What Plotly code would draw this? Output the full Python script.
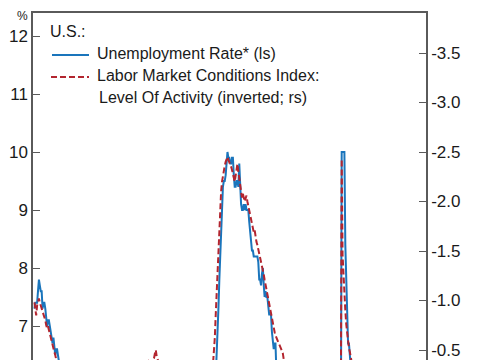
import pandas as pd
import plotly.graph_objects as go

# Monthly data, starting January 1992
start_month = "1992-01-01"

unemployment_rate = [
    7.3, 7.4, 7.4, 7.4, 7.6, 7.8, 7.7, 7.6, 7.6, 7.3, 7.4, 7.4,   # 1992
    7.3, 7.1, 7.0, 7.1, 7.1, 7.0, 6.9, 6.8, 6.7, 6.8, 6.6, 6.5,   # 1993
    6.6, 6.6, 6.5, 6.4, 6.1, 6.1, 6.1, 6.0, 5.9, 5.8, 5.6, 5.5,   # 1994
    5.6, 5.4, 5.4, 5.8, 5.6, 5.6, 5.7, 5.7, 5.6, 5.5, 5.6, 5.6,   # 1995
    5.6, 5.5, 5.5, 5.6, 5.6, 5.3, 5.5, 5.1, 5.2, 5.2, 5.4, 5.4,   # 1996
    5.3, 5.2, 5.2, 5.1, 4.9, 5.0, 4.9, 4.8, 4.9, 4.7, 4.6, 4.7,   # 1997
    4.6, 4.6, 4.7, 4.3, 4.4, 4.5, 4.5, 4.5, 4.6, 4.5, 4.4, 4.4,   # 1998
    4.3, 4.4, 4.2, 4.3, 4.2, 4.3, 4.3, 4.2, 4.2, 4.1, 4.1, 4.0,   # 1999
    4.0, 4.1, 4.0, 3.8, 4.0, 4.0, 4.0, 4.1, 3.9, 3.9, 3.9, 3.9,   # 2000
    4.2, 4.2, 4.3, 4.4, 4.3, 4.5, 4.6, 4.9, 5.0, 5.3, 5.5, 5.7,   # 2001
    5.7, 5.7, 5.7, 5.9, 5.8, 5.8, 5.8, 5.7, 5.7, 5.7, 5.9, 6.0,   # 2002
    5.8, 5.9, 5.9, 6.0, 6.1, 6.3, 6.2, 6.1, 6.1, 6.0, 5.8, 5.7,   # 2003
    5.7, 5.6, 5.8, 5.6, 5.6, 5.6, 5.5, 5.4, 5.4, 5.5, 5.4, 5.4,   # 2004
    5.3, 5.4, 5.2, 5.2, 5.1, 5.0, 5.0, 4.9, 5.0, 5.0, 5.0, 4.9,   # 2005
    4.7, 4.8, 4.7, 4.7, 4.6, 4.6, 4.7, 4.7, 4.5, 4.4, 4.5, 4.4,   # 2006
    4.6, 4.5, 4.4, 4.5, 4.4, 4.6, 4.7, 4.6, 4.7, 4.7, 4.7, 5.0,   # 2007
    5.0, 4.9, 5.1, 5.0, 5.4, 5.6, 5.8, 6.1, 6.1, 6.5, 6.8, 7.3,   # 2008
    7.8, 8.3, 8.7, 9.0, 9.4, 9.5, 9.5, 9.6, 9.8, 10.0, 9.9, 9.9,  # 2009
    9.8, 9.8, 9.9, 9.9, 9.6, 9.4, 9.4, 9.5, 9.5, 9.4, 9.8, 9.3,   # 2010
    9.1, 9.0, 9.0, 9.1, 9.0, 9.1, 9.0, 9.0, 9.0, 8.8, 8.6, 8.5,   # 2011
    8.3, 8.3, 8.2, 8.2, 8.2, 8.2, 8.2, 8.1, 7.8, 7.8, 7.7, 7.9,   # 2012
    8.0, 7.7, 7.5, 7.6, 7.5, 7.5, 7.3, 7.2, 7.2, 7.2, 6.9, 6.7,   # 2013
    6.6, 6.7, 6.7, 6.2, 6.3, 6.1, 6.2, 6.1, 5.9, 5.7, 5.8, 5.6,   # 2014
    5.7, 5.5, 5.4, 5.4, 5.6, 5.3, 5.2, 5.1, 5.0, 5.0, 5.1, 5.0,   # 2015
    4.8, 4.9, 5.0, 5.1, 4.8, 4.9, 4.8, 4.9, 5.0, 4.9, 4.7, 4.7,   # 2016
    4.7, 4.6, 4.4, 4.4, 4.4, 4.3, 4.3, 4.4, 4.3, 4.2, 4.2, 4.1,   # 2017
    4.0, 4.1, 4.0, 4.0, 3.8, 4.0, 3.8, 3.8, 3.7, 3.8, 3.8, 3.9,   # 2018
    4.0, 3.8, 3.8, 3.7, 3.6, 3.6, 3.7, 3.6, 3.5, 3.6, 3.6, 3.6,   # 2019
    3.5, 3.5, 4.4, 10.0, 10.0, 10.0, 10.0, 8.4, 7.8, 6.9, 6.7, 6.7,  # 2020 (capped)
    6.4, 6.2, 6.1, 6.1, 5.8, 5.9,                                 # 2021
]

lmci_level = [
    -0.98, -0.90, -0.85, -0.95, -1.00, -1.02, -0.98, -0.95, -0.92, -0.90, -0.85, -0.82,  # 1992
    -0.80, -0.75, -0.72, -0.74, -0.70, -0.65, -0.62, -0.58, -0.55, -0.52, -0.48, -0.45,  # 1993
    -0.40, -0.35, -0.30, -0.25, -0.20, -0.15, -0.12, -0.08, -0.05, 0.00, 0.05, 0.10,     # 1994
    0.12, 0.14, 0.15, 0.12, 0.10, 0.10, 0.11, 0.12, 0.14, 0.15, 0.16, 0.18,              # 1995
    0.20, 0.22, 0.24, 0.25, 0.27, 0.30, 0.31, 0.33, 0.34, 0.35, 0.36, 0.38,              # 1996
    0.40, 0.42, 0.45, 0.47, 0.50, 0.52, 0.54, 0.56, 0.58, 0.60, 0.62, 0.63,              # 1997
    0.65, 0.66, 0.67, 0.69, 0.70, 0.71, 0.72, 0.73, 0.74, 0.75, 0.76, 0.77,              # 1998
    0.78, 0.79, 0.80, 0.80, 0.81, 0.82, 0.83, 0.84, 0.85, 0.85, 0.86, 0.87,              # 1999
    0.88, 0.89, 0.90, 0.90, 0.89, 0.88, 0.86, 0.84, 0.82, 0.80, 0.76, 0.72,              # 2000
    0.65, 0.58, 0.50, 0.40, 0.30, 0.20, 0.10, 0.00, -0.10, -0.22, -0.30, -0.34,          # 2001
    -0.35, -0.36, -0.37, -0.38, -0.38, -0.38, -0.39, -0.38, -0.38, -0.39, -0.40, -0.41,  # 2002
    -0.42, -0.47, -0.50, -0.43, -0.39, -0.38, -0.36, -0.34, -0.32, -0.28, -0.24, -0.20,  # 2003
    -0.17, -0.14, -0.10, -0.05, 0.00, 0.03, 0.05, 0.08, 0.10, 0.12, 0.14, 0.16,          # 2004
    0.18, 0.20, 0.22, 0.24, 0.25, 0.27, 0.28, 0.30, 0.30, 0.32, 0.33, 0.35,              # 2005
    0.36, 0.38, 0.40, 0.41, 0.42, 0.44, 0.45, 0.46, 0.47, 0.48, 0.49, 0.50,              # 2006
    0.50, 0.49, 0.48, 0.46, 0.44, 0.42, 0.40, 0.37, 0.34, 0.30, 0.26, 0.20,              # 2007
    0.12, 0.05, -0.03, -0.12, -0.22, -0.33, -0.45, -0.62, -0.85, -1.08, -1.30, -1.52,    # 2008
    -1.75, -1.95, -2.10, -2.20, -2.27, -2.32, -2.36, -2.40, -2.44, -2.45, -2.42, -2.40,  # 2009
    -2.38, -2.35, -2.32, -2.28, -2.22, -2.20, -2.26, -2.34, -2.38, -2.30, -2.22, -2.14,  # 2010
    -2.06, -2.04, -2.08, -2.05, -2.00, -2.03, -2.06, -2.00, -1.95, -1.90, -1.85, -1.80,  # 2011
    -1.76, -1.73, -1.69, -1.71, -1.63, -1.59, -1.56, -1.52, -1.46, -1.41, -1.38, -1.35,  # 2012
    -1.31, -1.26, -1.21, -1.16, -1.11, -1.04, -0.99, -0.94, -0.89, -0.84, -0.79, -0.74,  # 2013
    -0.71, -0.68, -0.65, -0.62, -0.60, -0.58, -0.56, -0.54, -0.52, -0.50, -0.47, -0.41,  # 2014
    -0.36, -0.32, -0.28, -0.24, -0.20, -0.16, -0.12, -0.08, -0.05, -0.02, 0.01, 0.04,    # 2015
    0.06, 0.08, 0.10, 0.12, 0.14, 0.16, 0.18, 0.20, 0.22, 0.24, 0.26, 0.28,              # 2016
    0.30, 0.32, 0.34, 0.36, 0.38, 0.40, 0.42, 0.44, 0.46, 0.48, 0.50, 0.52,              # 2017
    0.54, 0.56, 0.58, 0.60, 0.62, 0.64, 0.66, 0.68, 0.70, 0.72, 0.73, 0.74,              # 2018
    0.75, 0.76, 0.77, 0.78, 0.79, 0.80, 0.80, 0.81, 0.81, 0.82, 0.82, 0.83,              # 2019
    0.83, 0.82, 0.30, -2.43, -1.46, -1.22, -1.05, -0.90, -0.76, -0.66, -0.57, -0.52,     # 2020
    -0.48, -0.44, -0.38, -0.30, -0.22, -0.15,                                            # 2021
]

left_ticks = [7, 8, 9, 10, 11, 12]
right_ticks = [-3.5, -3.0, -2.5, -2.0, -1.5, -1.0, -0.5]
right_tick_labels = ["-3.5", "-3.0", "-2.5", "-2.0", "-1.5", "-1.0", "-0.5"]

legend_title = "U.S.:"
legend_blue = "Unemployment Rate* (ls)"
legend_red_1 = "Labor Market Conditions Index:"
legend_red_2 = "Level Of Activity (inverted; rs)"

dates_u = pd.date_range(start=start_month, periods=len(unemployment_rate), freq="MS")
dates_l = pd.date_range(start=start_month, periods=len(lmci_level), freq="MS")

BLUE = "#1a75bc"
RED = "#b3252f"
AXIS = "#5a5a5a"
FONT = "Arial, Liberation Sans, sans-serif"
DASH = "6px,3px"

# The page adds an 8px body margin, so the figure is sized to end at the window edge.
OFF = 8
W, H = 485 - OFF, 360 - OFF
ML, MR, MT, MB = 33 - OFF, 485 - 426, 13 - OFF, 0
PW, PH = W - ML - MR, H - MT - MB


def px(x):
    # page pixel x -> paper fraction
    return (x - OFF - ML) / PW


def py(y):
    # page pixel y -> paper fraction
    return (H - MB - (y - OFF)) / PH


fig = go.Figure()
fig.add_trace(go.Scatter(x=dates_u, y=unemployment_rate, mode="lines",
                         line=dict(color=BLUE, width=2), yaxis="y", showlegend=False))
fig.add_trace(go.Scatter(x=dates_l, y=lmci_level, mode="lines",
                         line=dict(color=RED, width=2, dash=DASH), yaxis="y2", showlegend=False))

fig.update_layout(
    width=W, height=H,
    margin=dict(l=ML, r=MR, t=MT, b=MB, pad=0),
    paper_bgcolor="white", plot_bgcolor="white",
    font=dict(family=FONT, size=16, color="#1a1a1a"),
    xaxis=dict(range=["1991-11-15", "2028-01-01"], side="top", showline=True,
               linecolor=AXIS, linewidth=1.5, showgrid=False, zeroline=False,
               showticklabels=False, ticks=""),
    yaxis=dict(range=[6.4138, 12.3966], tickvals=left_ticks, ticks="inside", ticklen=7,
               tickcolor=AXIS, tickwidth=1.2, showline=True, linecolor=AXIS, linewidth=1.5,
               showgrid=False, zeroline=False, tickfont=dict(size=17)),
    yaxis2=dict(range=[-0.399, -3.904], overlaying="y", side="right", tickvals=right_ticks,
                ticktext=right_tick_labels, ticks="inside", ticklen=7, tickcolor=AXIS,
                tickwidth=1.2, showline=True, linecolor=AXIS, linewidth=1.5,
                showgrid=False, zeroline=False, tickfont=dict(size=17)),
)

# legend built from annotations and line samples (positions in page pixels)
fig.add_annotation(x=px(48), y=py(31), xref="paper", yref="paper", text=legend_title,
                   showarrow=False, xanchor="left", yanchor="middle", font=dict(size=16))
fig.add_annotation(x=px(95), y=py(54), xref="paper", yref="paper", text=legend_blue,
                   showarrow=False, xanchor="left", yanchor="middle", font=dict(size=16))
fig.add_annotation(x=px(95), y=py(76), xref="paper", yref="paper", text=legend_red_1,
                   showarrow=False, xanchor="left", yanchor="middle", font=dict(size=16))
fig.add_annotation(x=px(97), y=py(98), xref="paper", yref="paper", text=legend_red_2,
                   showarrow=False, xanchor="left", yanchor="middle", font=dict(size=16))
fig.add_shape(type="line", xref="paper", yref="paper", x0=px(52), x1=px(89), y0=py(55), y1=py(55),
              line=dict(color=BLUE, width=2))
fig.add_shape(type="line", xref="paper", yref="paper", x0=px(51), x1=px(89), y0=py(77), y1=py(77),
              line=dict(color=RED, width=2, dash=DASH))
fig.add_annotation(x=px(22), y=py(8), xref="paper", yref="paper", text="%",
                   showarrow=False, xanchor="center", yanchor="top", borderpad=0,
                   font=dict(size=12))

fig.write_html("out.html")
